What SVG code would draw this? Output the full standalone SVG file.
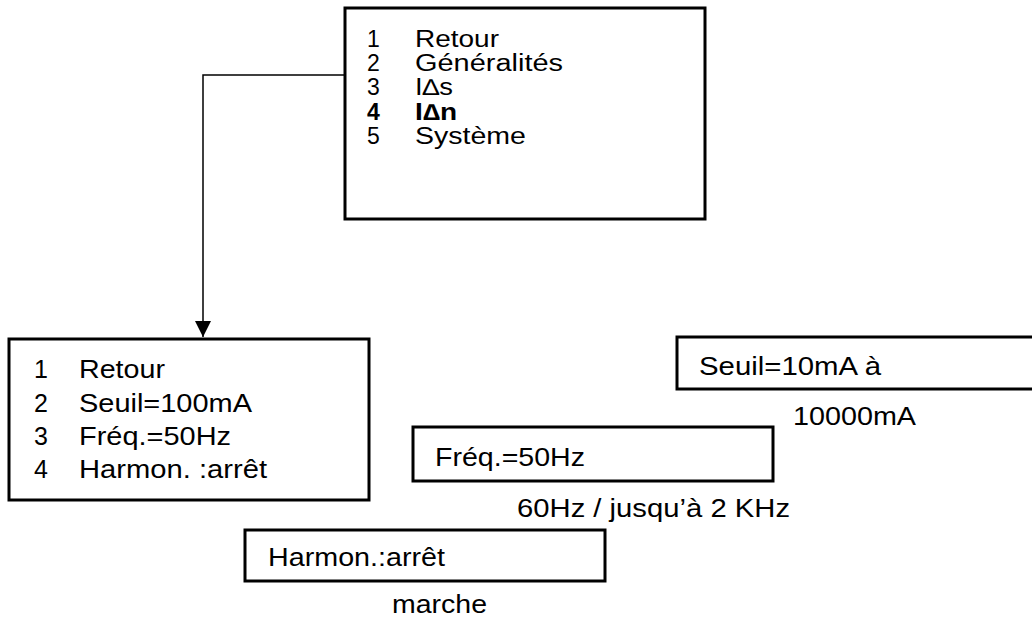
<svg xmlns="http://www.w3.org/2000/svg" width="1032" height="626" viewBox="0 0 1032 626">
<style>
.box{fill:#fff;stroke:#000;stroke-width:3}
.t{font-family:"Liberation Sans",Arial,sans-serif;font-size:25px;fill:#000}
.s{font-size:23px}
.b{font-weight:bold}
.conn{fill:none;stroke:#000;stroke-width:1.5}
</style>
<defs>
<marker id="arr" markerUnits="userSpaceOnUse" markerWidth="18" markerHeight="16" refX="16" refY="8" orient="auto">
<path d="M0,0 L16,8 L0,16 Z" fill="#000"/>
</marker>
</defs>
<rect width="1032" height="626" fill="#fff"/>
<g id="connectors">
<path class="conn" d="M345,75 H203 V337" marker-end="url(#arr)"/>
</g>
<g id="menu-main">
<rect class="box" x="345" y="8" width="360" height="211"/>
<text class="t s" x="367" y="47">1</text>
<text class="t s" x="415" y="47" textLength="84" lengthAdjust="spacingAndGlyphs">Retour</text>
<text class="t s" x="367" y="71">2</text>
<text class="t s" x="415" y="71" textLength="148" lengthAdjust="spacingAndGlyphs">Généralités</text>
<text class="t s" x="367" y="95">3</text>
<text class="t s" x="415" y="95" textLength="38" lengthAdjust="spacingAndGlyphs">I∆s</text>
<text class="t s b" x="367" y="120">4</text>
<text class="t s b" x="415" y="120" textLength="42" lengthAdjust="spacingAndGlyphs">I∆n</text>
<text class="t s" x="367" y="144">5</text>
<text class="t s" x="415" y="144" textLength="111" lengthAdjust="spacingAndGlyphs">Système</text>
</g>
<g id="menu-idn">
<rect class="box" x="9" y="339" width="360" height="161"/>
<text class="t" x="34" y="378">1</text>
<text class="t" x="79" y="378" textLength="86" lengthAdjust="spacingAndGlyphs">Retour</text>
<text class="t" x="34" y="412">2</text>
<text class="t" x="79" y="412" textLength="173" lengthAdjust="spacingAndGlyphs">Seuil=100mA</text>
<text class="t" x="34" y="445">3</text>
<text class="t" x="79" y="445" textLength="152" lengthAdjust="spacingAndGlyphs">Fréq.=50Hz</text>
<text class="t" x="34" y="478">4</text>
<text class="t" x="79" y="478" textLength="188" lengthAdjust="spacingAndGlyphs">Harmon. :arrêt</text>
</g>
<g id="seuil">
<rect class="box" x="677" y="337" width="360" height="52"/>
<text class="t" x="699" y="375" textLength="182" lengthAdjust="spacingAndGlyphs">Seuil=10mA à</text>
<text class="t" x="793" y="425" textLength="123" lengthAdjust="spacingAndGlyphs">10000mA</text>
</g>
<g id="freq">
<rect class="box" x="413" y="427" width="360" height="54"/>
<text class="t" x="435" y="466" textLength="150" lengthAdjust="spacingAndGlyphs">Fréq.=50Hz</text>
<text class="t" x="517" y="517" textLength="273" lengthAdjust="spacingAndGlyphs">60Hz / jusqu’à 2 KHz</text>
</g>
<g id="harmon">
<rect class="box" x="245" y="530" width="360" height="51"/>
<text class="t" x="268" y="566" textLength="177" lengthAdjust="spacingAndGlyphs">Harmon.:arrêt</text>
<text class="t" x="392" y="613" textLength="95" lengthAdjust="spacingAndGlyphs">marche</text>
</g>
</svg>
